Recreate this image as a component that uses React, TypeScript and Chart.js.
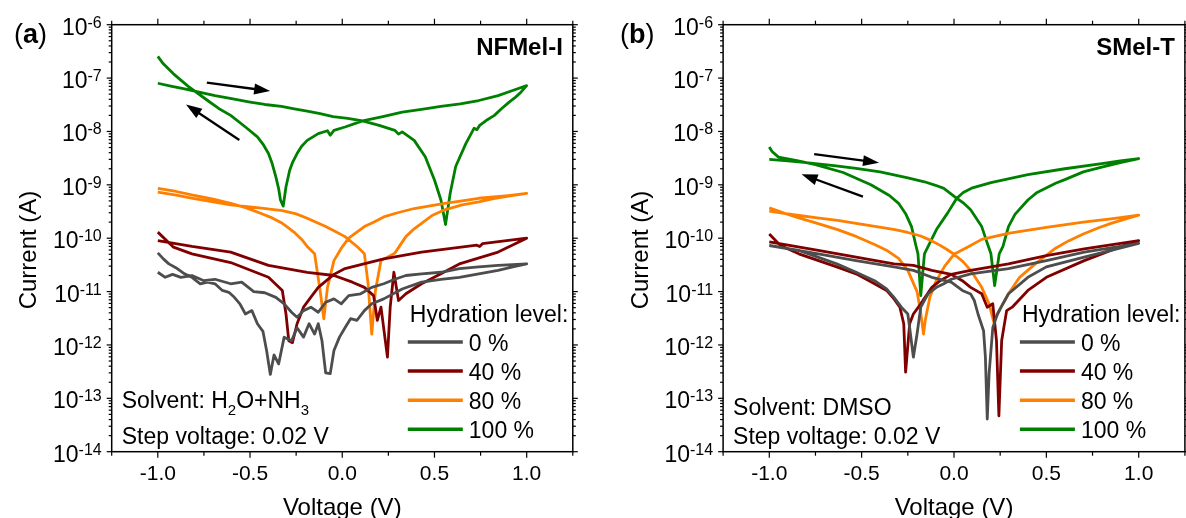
import React, { useEffect, useRef } from 'react';
import { Chart, registerables } from 'chart.js';

Chart.register(...registerables);

const FONT = 'Arial, "Liberation Sans", Helvetica, sans-serif';

// ---------- shared axis / legend content ----------
const X_TICK_VALUES = [-1.25, -1, -0.75, -0.5, -0.25, 0, 0.25, 0.5, 0.75, 1, 1.25];
const X_TICK_LABELS = ['', '-1.0', '', '-0.5', '', '0.0', '', '0.5', '', '1.0', ''];
const Y_EXPONENTS = [-14, -13, -12, -11, -10, -9, -8, -7, -6];
const Y_TICK_EXP_LABELS = ['-14', '-13', '-12', '-11', '-10', '-9', '-8', '-7', '-6'];
const LEVEL_LABELS = ['0 %', '40 %', '80 %', '100 %'];
const LEVEL_COLORS = ['#4d4d4d', '#800000', '#ff8000', '#008000'];

// ---------- panel (a): NFMel-I ----------
const A_V_0 = [-1.0, -0.96, -0.92, -0.875, -0.815, -0.75, -0.69, -0.605, -0.545, -0.48, -0.42, -0.36, -0.315, -0.275, -0.245, -0.21, -0.17, -0.13, -0.09, -0.045, -0.005, 0.035, 0.1, 0.16, 0.225, 0.285, 0.345, 0.43, 0.535, 0.635, 0.74, 0.845, 1.0,
  1.0, 0.925, 0.845, 0.74, 0.635, 0.535, 0.43, 0.325, 0.225, 0.16, 0.12, 0.08, 0.045, 0.015, -0.015, -0.045, -0.065, -0.09, -0.11, -0.13, -0.15, -0.18, -0.21, -0.245, -0.275, -0.315, -0.345, -0.37, -0.39, -0.41, -0.43, -0.46, -0.49, -0.525, -0.555, -0.585, -0.615, -0.65, -0.69, -0.73, -0.77, -0.815, -0.855, -0.895, -0.94, -0.97, -1.0];
const A_I_0 = [2.3e-11, 1.85e-11, 2.1e-11, 1.85e-11, 2.0e-11, 1.6e-11, 1.7e-11, 1.4e-11, 1.5e-11, 1.0e-11, 9.5e-12, 7.8e-12, 5.9e-12, 4.1e-12, 3.3e-12, 4.4e-12, 5.1e-12, 4.1e-12, 6.3e-12, 7.3e-12, 5.9e-12, 8.4e-12, 9.1e-12, 1.2e-11, 1.4e-11, 1.7e-11, 2.0e-11, 2.15e-11, 2.3e-11, 2.7e-11, 2.9e-11, 3.1e-11, 3.3e-11,
  3.3e-11, 2.9e-11, 2.5e-11, 2.15e-11, 1.85e-11, 1.7e-11, 1.5e-11, 1.12e-11, 7.3e-12, 5.9e-12, 4.4e-12, 2.9e-12, 3.1e-12, 2.1e-12, 1.4e-12, 7.9e-13, 2.9e-13, 3.0e-13, 1.2e-12, 2.5e-12, 1.6e-12, 2.5e-12, 1.4e-12, 2.1e-12, 1.2e-12, 1.4e-12, 4.4e-13, 6.5e-13, 2.8e-13, 7.8e-13, 1.8e-12, 2.5e-12, 4.4e-12, 3.8e-12, 5.9e-12, 7.8e-12, 9.7e-12, 1.05e-11, 1.4e-11, 1.5e-11, 1.4e-11, 1.85e-11, 2.15e-11, 2.7e-11, 3.3e-11, 4.1e-11, 5.3e-11];

const A_V_40 = [-1.0, -0.815, -0.605, -0.4, -0.19, -0.045, 0.055, 0.12, 0.17, 0.19, 0.21, 0.245, 0.26, 0.28, 0.305, 0.345, 0.43, 0.535, 0.635, 0.845, 1.0,
  0.76, 0.745, 0.73, 0.43, 0.225, 0.015, -0.045, -0.13, -0.17, -0.21, -0.245, -0.27, -0.29, -0.305, -0.325, -0.4, -0.605, -0.815, -0.915, -1.0];
const A_I_40 = [9.0e-11, 7.0e-11, 5.5e-11, 3.1e-11, 2.3e-11, 2.0e-11, 1.5e-11, 1.2e-11, 8.4e-12, 2.9e-12, 5.1e-12, 5.9e-13, 5.1e-12, 2.3e-11, 6.8e-12, 9.1e-12, 1.4e-11, 2.15e-11, 3.3e-11, 5.5e-11, 1.0e-10,
  7.9e-11, 7.0e-11, 7.4e-11, 5.5e-11, 4.1e-11, 2.7e-11, 2.1e-11, 1.2e-11, 7.9e-12, 5.1e-12, 2.5e-12, 1.1e-12, 1.2e-12, 3.8e-12, 1.05e-11, 1.85e-11, 3.5e-11, 5.1e-11, 6.8e-11, 1.3e-10];

const A_V_80 = [-1.0, -0.9, -0.81, -0.7, -0.605, -0.45, -0.325, -0.25, -0.19, -0.09, -0.04, 0.015, 0.08, 0.12, 0.14, 0.16, 0.18, 0.21, 0.25, 0.285, 0.345, 0.39, 0.43, 0.49, 0.555, 0.65, 0.74, 0.82, 0.885, 1.0,
  0.9, 0.74, 0.65, 0.555, 0.39, 0.3, 0.225, 0.17, 0.12, 0.035, -0.005, -0.045, -0.08, -0.1, -0.12, -0.15, -0.19, -0.22, -0.255, -0.29, -0.325, -0.38, -0.44, -0.52, -0.605, -0.7, -0.81, -0.9, -1.0];
const A_I_80 = [7.3e-10, 6.4e-10, 5.6e-10, 4.8e-10, 4.2e-10, 3.7e-10, 3.3e-10, 2.85e-10, 2.36e-10, 1.65e-10, 1.35e-10, 1.07e-10, 7.0e-11, 5.1e-11, 1.4e-11, 1.6e-12, 1.05e-11, 3.8e-11, 4.5e-11, 5.25e-11, 1.07e-10, 1.5e-10, 1.9e-10, 2.7e-10, 3.4e-10, 4.2e-10, 4.8e-10, 5.5e-10, 6.0e-10, 6.9e-10,
  6.3e-10, 5.6e-10, 5.0e-10, 4.5e-10, 3.6e-10, 3.0e-10, 2.5e-10, 2.0e-10, 1.65e-10, 1.0e-10, 6.5e-11, 3.8e-11, 1.2e-11, 3.1e-12, 1.05e-11, 5.1e-11, 7.0e-11, 9.5e-11, 1.24e-10, 1.55e-10, 1.9e-10, 2.4e-10, 2.9e-10, 3.7e-10, 4.5e-10, 5.4e-10, 6.4e-10, 7.5e-10, 8.6e-10];

const A_V_100 = [-1.0, -0.93, -0.855, -0.77, -0.69, -0.6, -0.5, -0.42, -0.33, -0.26, -0.19, -0.12, -0.05, 0.03, 0.11, 0.2, 0.285, 0.305, 0.325, 0.39, 0.45, 0.5, 0.535, 0.56, 0.585, 0.615, 0.67, 0.715, 0.73, 0.745, 0.78, 0.825, 0.86, 0.905, 0.94, 0.97, 1.0,
  0.92, 0.845, 0.74, 0.64, 0.535, 0.43, 0.325, 0.22, 0.11, 0.015, -0.045, -0.065, -0.08, -0.13, -0.19, -0.22, -0.245, -0.27, -0.285, -0.305, -0.32, -0.335, -0.345, -0.36, -0.38, -0.4, -0.43, -0.46, -0.525, -0.605, -0.67, -0.73, -0.835, -0.915, -0.97, -1.0];
const A_I_100 = [8.0e-8, 7.1e-8, 6.3e-8, 5.4e-8, 4.7e-8, 4.1e-8, 3.55e-8, 3.2e-8, 2.95e-8, 2.65e-8, 2.4e-8, 2.15e-8, 1.9e-8, 1.75e-8, 1.58e-8, 1.3e-8, 1.05e-8, 8.9e-9, 9.8e-9, 6.8e-9, 3.35e-9, 1.23e-9, 5.2e-10, 1.8e-10, 6.9e-10, 2.2e-9, 5.9e-9, 1.15e-8, 1.08e-8, 1.3e-8, 1.6e-8, 2.0e-8, 2.6e-8, 3.55e-8, 4.4e-8, 5.5e-8, 7.2e-8,
  5.8e-8, 4.7e-8, 3.8e-8, 3.3e-8, 2.95e-8, 2.6e-8, 2.3e-8, 1.9e-8, 1.58e-8, 1.21e-8, 1.05e-8, 8.5e-9, 1.03e-8, 9.1e-9, 6.8e-9, 5.3e-9, 3.85e-9, 2.6e-9, 1.88e-9, 9.2e-10, 4.0e-10, 5.2e-10, 8.5e-10, 1.41e-9, 2.5e-9, 3.85e-9, 5.8e-9, 7.9e-9, 1.21e-8, 2.0e-8, 2.7e-8, 3.8e-8, 7.0e-8, 1.2e-7, 1.85e-7, 2.55e-7];

// ---------- panel (b): SMel-T ----------
const B_V_0 = [-1.0, -0.735, -0.53, -0.325, -0.22, -0.12, -0.015, 0.045, 0.09, 0.11, 0.13, 0.16, 0.17, 0.18, 0.19, 0.21, 0.235, 0.255, 0.295, 0.4, 0.5, 0.705, 1.0,
  0.705, 0.5, 0.295, 0.09, -0.015, -0.055, -0.095, -0.14, -0.18, -0.2, -0.22, -0.24, -0.25, -0.285, -0.325, -0.365, -0.43, -0.53, -0.635, -0.84, -1.0];
const B_I_0 = [7.3e-11, 5.1e-11, 3.8e-11, 2.9e-11, 2.5e-11, 1.85e-11, 1.5e-11, 1.05e-11, 9e-12, 6.8e-12, 3.8e-12, 1.85e-12, 5.9e-13, 4.1e-14, 2.9e-13, 2.1e-12, 3.8e-12, 5.1e-12, 9.1e-12, 1.85e-11, 2.9e-11, 4.4e-11, 8.0e-11,
  5.5e-11, 3.8e-11, 2.7e-11, 2.15e-11, 1.7e-11, 1.4e-11, 1.2e-11, 9.1e-12, 5.1e-12, 1.6e-12, 5.9e-13, 2.1e-12, 3.8e-12, 5.1e-12, 7.8e-12, 1.12e-11, 1.6e-11, 2.3e-11, 3.3e-11, 5.9e-11, 7.3e-11];

const B_V_40 = [-1.0, -0.735, -0.53, -0.325, -0.22, -0.12, -0.015, 0.045, 0.09, 0.15, 0.18, 0.21, 0.23, 0.243, 0.258, 0.285, 0.315, 0.4, 0.5, 0.705, 0.87, 1.0,
  0.705, 0.5, 0.295, 0.09, -0.015, -0.075, -0.12, -0.18, -0.22, -0.24, -0.262, -0.272, -0.293, -0.325, -0.365, -0.43, -0.53, -0.635, -0.84, -0.94, -1.0];
const B_I_40 = [8.5e-11, 5.9e-11, 4.4e-11, 3.3e-11, 3.1e-11, 2.5e-11, 2.1e-11, 1.6e-11, 1.2e-11, 9.1e-12, 5.1e-12, 5.9e-12, 1.2e-12, 4.7e-14, 1.2e-12, 4.4e-12, 5.1e-12, 1.05e-11, 1.85e-11, 3.8e-11, 6.3e-11, 9.0e-11,
  6.3e-11, 4.7e-11, 3.3e-11, 2.5e-11, 2.1e-11, 1.6e-11, 1.2e-11, 5.9e-12, 3.8e-12, 2.5e-12, 3.1e-13, 2.5e-12, 5.1e-12, 7.3e-12, 1.05e-11, 1.4e-11, 2.15e-11, 2.9e-11, 5.1e-11, 7.3e-11, 1.2e-10];

const B_V_80 = [-1.0, -0.87, -0.74, -0.63, -0.53, -0.42, -0.32, -0.25, -0.18, -0.12, -0.08, -0.04, 0.0, 0.05, 0.09, 0.15, 0.19, 0.215, 0.255, 0.295, 0.355, 0.44, 0.55, 0.62, 0.7, 0.78, 0.85, 0.93, 1.0,
  0.93, 0.85, 0.7, 0.5, 0.3, 0.15, 0.08, 0.0, -0.05, -0.1, -0.13, -0.155, -0.165, -0.18, -0.2, -0.25, -0.3, -0.36, -0.43, -0.53, -0.63, -0.74, -0.84, -0.92, -1.0];
const B_I_80 = [3.2e-10, 2.75e-10, 2.4e-10, 2.15e-10, 1.9e-10, 1.65e-10, 1.45e-10, 1.28e-10, 1.1e-10, 8.9e-11, 7.5e-11, 6.2e-11, 5.0e-11, 3.6e-11, 2.5e-11, 1.2e-11, 5.9e-12, 2.7e-12, 5.1e-12, 9.1e-12, 1.85e-11, 3.3e-11, 6.5e-11, 8.9e-11, 1.2e-10, 1.55e-10, 1.9e-10, 2.3e-10, 2.7e-10,
  2.5e-10, 2.3e-10, 2.0e-10, 1.6e-10, 1.25e-10, 9.5e-11, 7.0e-11, 5.0e-11, 3.0e-11, 1.5e-11, 8e-12, 3e-12, 1.6e-12, 4e-12, 1.0e-11, 2.5e-11, 4.2e-11, 5.8e-11, 7.6e-11, 1.08e-10, 1.45e-10, 1.9e-10, 2.4e-10, 2.95e-10, 3.7e-10];

const B_V_100 = [-1.0, -0.9, -0.8, -0.65, -0.53, -0.4, -0.25, -0.16, -0.1, -0.055, 0.015, 0.05, 0.09, 0.15, 0.18, 0.2, 0.22, 0.245, 0.265, 0.295, 0.33, 0.4, 0.45, 0.55, 0.6, 0.7, 0.8, 0.9, 1.0,
  0.9, 0.8, 0.6, 0.4, 0.2, 0.1, 0.05, 0.015, -0.035, -0.095, -0.14, -0.16, -0.18, -0.195, -0.205, -0.23, -0.26, -0.3, -0.35, -0.45, -0.6, -0.75, -0.85, -0.95, -0.985, -1.0];
const B_I_100 = [3.0e-9, 2.8e-9, 2.6e-9, 2.3e-9, 2.04e-9, 1.75e-9, 1.35e-9, 1.14e-9, 9.8e-10, 8.6e-10, 5.6e-10, 4.6e-10, 3.4e-10, 1.65e-10, 8.1e-11, 5.1e-11, 1.3e-11, 5.1e-11, 7.0e-11, 1.65e-10, 2.8e-10, 5.2e-10, 7.2e-10, 1.07e-9, 1.25e-9, 1.75e-9, 2.15e-9, 2.6e-9, 3.1e-9,
  2.8e-9, 2.5e-9, 2.0e-9, 1.55e-9, 1.1e-9, 8.8e-10, 7.2e-10, 5.6e-10, 2.95e-10, 1.45e-10, 7.0e-11, 5.1e-11, 8.4e-12, 5.1e-11, 7.0e-11, 1.65e-10, 2.8e-10, 4.5e-10, 6.3e-10, 1.0e-9, 1.7e-9, 2.4e-9, 2.85e-9, 3.3e-9, 4.2e-9, 5.1e-9];

// sweep-direction arrows (voltage, current) annotations
const A_ARROWS = [
  { from: [-0.734, 8.2e-8], to: [-0.391, 5.7e-8] },
  { from: [-0.558, 6.9e-9], to: [-0.847, 3.2e-8] },
];
const B_ARROWS = [
  { from: [-0.757, 3.75e-9], to: [-0.406, 2.6e-9] },
  { from: [-0.493, 6.0e-10], to: [-0.825, 1.58e-9] },
];

type Seg = [string, boolean];
interface PanelCfg {
  curves: [number[], number[]][];
  tag: string;
  tagX: number;
  sample: string;
  solvent: Seg[];
  solventBaseline: number;
  arrows: { from: number[]; to: number[] }[];
  canvasLeft: number;
  canvasWidth: number;
  areaLeft: number;
  areaRight: number;
}

const PANEL_A: PanelCfg = {
  curves: [[A_V_0, A_I_0], [A_V_40, A_I_40], [A_V_80, A_I_80], [A_V_100, A_I_100]],
  tag: 'a', tagX: 14, sample: 'NFMel-I',
  solvent: [['Solvent: H', false], ['2', true], ['O+NH', false], ['3', true]],
  solventBaseline: 408,
  arrows: A_ARROWS,
  canvasLeft: 0, canvasWidth: 593, areaLeft: 111.7, areaRight: 572.8,
};
const PANEL_B: PanelCfg = {
  curves: [[B_V_0, B_I_0], [B_V_40, B_I_40], [B_V_80, B_I_80], [B_V_100, B_I_100]],
  tag: 'b', tagX: 27, sample: 'SMel-T',
  solvent: [['Solvent: DMSO', false]],
  solventBaseline: 415,
  arrows: B_ARROWS,
  canvasLeft: 593, canvasWidth: 593, areaLeft: 130.1, areaRight: 591.9,
};

const TOP = 24.7;
const BOTTOM = 451.7;
const H = 518;

function drawArrow(ctx: CanvasRenderingContext2D, x1: number, y1: number, x2: number, y2: number) {
  const ang = Math.atan2(y2 - y1, x2 - x1);
  const hl = 16, hw = 5.5;
  const bx = x2 - hl * Math.cos(ang), by = y2 - hl * Math.sin(ang);
  ctx.lineWidth = 2.3;
  ctx.beginPath(); ctx.moveTo(x1, y1); ctx.lineTo(bx + 2 * Math.cos(ang), by + 2 * Math.sin(ang)); ctx.stroke();
  ctx.beginPath();
  ctx.moveTo(x2, y2);
  ctx.lineTo(bx + hw * Math.sin(ang), by - hw * Math.cos(ang));
  ctx.lineTo(bx - hw * Math.sin(ang), by + hw * Math.cos(ang));
  ctx.closePath(); ctx.fill();
}

function makeDecor(p: PanelCfg) {
  return {
    id: 'decor',
    afterDatasetsDraw(chart: any) {
      const ctx = chart.ctx as CanvasRenderingContext2D;
      const { left, right, top, bottom } = chart.chartArea;
      const xs = chart.scales.x, ys = chart.scales.y;
      const seg = (x1: number, y1: number, x2: number, y2: number) => {
        ctx.beginPath(); ctx.moveTo(x1, y1); ctx.lineTo(x2, y2); ctx.stroke();
      };
      ctx.save();
      ctx.strokeStyle = '#000';
      ctx.fillStyle = '#000';
      ctx.lineCap = 'butt';

      p.arrows.forEach(a => drawArrow(ctx,
        xs.getPixelForValue(a.from[0]), ys.getPixelForValue(a.from[1]),
        xs.getPixelForValue(a.to[0]), ys.getPixelForValue(a.to[1])));

      // frame and ticks
      ctx.lineWidth = 1.5;
      ctx.strokeRect(left, top, right - left, bottom - top);
      ctx.lineWidth = 1.2;
      X_TICK_VALUES.forEach((v, i) => {
        const x = xs.getPixelForValue(v);
        const len = X_TICK_LABELS[i] ? 6 : 4;
        seg(x, bottom, x, bottom + len);
        seg(x, top, x, top - len);
      });
      Y_EXPONENTS.forEach(e => {
        const y = ys.getPixelForValue(Math.pow(10, e));
        seg(left - 5, y, left, y);
        seg(right, y, right + 5, y);
        if (e < -6) {
          for (let k = 2; k <= 9; k++) {
            const ym = ys.getPixelForValue(k * Math.pow(10, e));
            seg(left - 3, ym, left, ym);
            seg(right, ym, right + 3, ym);
          }
        }
      });

      // x tick labels
      ctx.textBaseline = 'alphabetic';
      ctx.textAlign = 'center';
      ctx.font = `21px ${FONT}`;
      X_TICK_VALUES.forEach((v, i) => {
        if (X_TICK_LABELS[i]) ctx.fillText(X_TICK_LABELS[i], xs.getPixelForValue(v), bottom + 28);
      });
      // y tick labels with superscript exponent
      Y_EXPONENTS.forEach((e, i) => {
        const y = ys.getPixelForValue(Math.pow(10, e));
        ctx.textAlign = 'right';
        ctx.font = `16px ${FONT}`;
        const ex = Y_TICK_EXP_LABELS[i];
        const w = ctx.measureText(ex).width;
        ctx.fillText(ex, left - 10, y + 3);
        ctx.font = `23px ${FONT}`;
        ctx.fillText('10', left - 10 - w, y + 10);
      });

      // axis titles
      ctx.textAlign = 'center';
      ctx.font = `24px ${FONT}`;
      ctx.fillText('Voltage (V)', (left + right) / 2, 515);
      ctx.save();
      ctx.translate(left - 75.5, 250);
      ctx.rotate(-Math.PI / 2);
      ctx.fillText('Current (A)', 0, 0);
      ctx.restore();

      // panel tag "(a)"
      ctx.textAlign = 'left';
      let tx = p.tagX;
      ctx.font = `27px ${FONT}`;
      ctx.fillText('(', tx, 43); tx += ctx.measureText('(').width;
      ctx.font = `bold 27px ${FONT}`;
      ctx.fillText(p.tag, tx, 43); tx += ctx.measureText(p.tag).width;
      ctx.font = `27px ${FONT}`;
      ctx.fillText(')', tx, 43);

      // sample name
      ctx.textAlign = 'right';
      ctx.font = `bold 24px ${FONT}`;
      ctx.fillText(p.sample, right - 10, 55);

      // solvent / step voltage notes
      ctx.textAlign = 'left';
      let sx = left + 10;
      p.solvent.forEach(([t, sub]) => {
        ctx.font = sub ? `15px ${FONT}` : `23px ${FONT}`;
        ctx.fillText(t, sx, p.solventBaseline + (sub ? 7 : 0));
        sx += ctx.measureText(t).width;
      });
      ctx.font = `23px ${FONT}`;
      ctx.fillText('Step voltage: 0.02 V', left + 10, 443.5);

      // legend
      ctx.fillText('Hydration level:', right - 163, 322);
      chart.data.datasets.forEach((ds: any, i: number) => {
        const y = 342 + i * 29.1;
        ctx.strokeStyle = ds.borderColor;
        ctx.lineWidth = 3.5;
        seg(right - 165, y, right - 110, y);
        ctx.fillStyle = '#000';
        ctx.fillText(ds.label, right - 104, y + 9);
      });
      ctx.restore();
    },
  };
}

function Panel({ cfg }: { cfg: PanelCfg }) {
  const ref = useRef<HTMLCanvasElement>(null);
  useEffect(() => {
    const canvas = ref.current;
    if (!canvas) return;
    const datasets = cfg.curves.map((c, i) => ({
      label: LEVEL_LABELS[i],
      data: c[0].map((v, j) => ({ x: v, y: c[1][j] })),
      showLine: true,
      borderColor: LEVEL_COLORS[i],
      backgroundColor: LEVEL_COLORS[i],
      borderWidth: 2.8,
      pointRadius: 0,
      pointHoverRadius: 0,
      tension: 0,
      fill: false,
      borderJoinStyle: 'round' as const,
    }));
    const chart = new Chart(canvas, {
      type: 'scatter',
      data: { datasets },
      options: {
        responsive: false,
        animation: false,
        devicePixelRatio: 1,
        events: [],
        layout: { padding: { top: TOP, right: cfg.canvasWidth - cfg.areaRight, left: 0, bottom: 0 } },
        plugins: { legend: { display: false }, tooltip: { enabled: false } },
        scales: {
          x: {
            type: 'linear', min: -1.25, max: 1.25,
            grid: { display: false }, border: { display: false }, ticks: { display: false },
            afterFit: (s: any) => { s.height = H - BOTTOM; },
          },
          y: {
            type: 'logarithmic', min: 1e-14, max: 1e-6,
            grid: { display: false }, border: { display: false }, ticks: { display: false },
            afterFit: (s: any) => { s.width = cfg.areaLeft; },
          },
        },
      } as any,
      plugins: [makeDecor(cfg)],
    });
    return () => chart.destroy();
  }, [cfg]);
  return (
    <canvas
      ref={ref}
      width={cfg.canvasWidth}
      height={H}
      style={{ position: 'absolute', left: cfg.canvasLeft, top: 0, width: cfg.canvasWidth, height: H }}
    />
  );
}

export default function App() {
  return (
    <div style={{ position: 'absolute', left: 0, top: 0, width: 1186, height: 518, background: '#fff', overflow: 'hidden' }}>
      <Panel cfg={PANEL_A} />
      <Panel cfg={PANEL_B} />
    </div>
  );
}
